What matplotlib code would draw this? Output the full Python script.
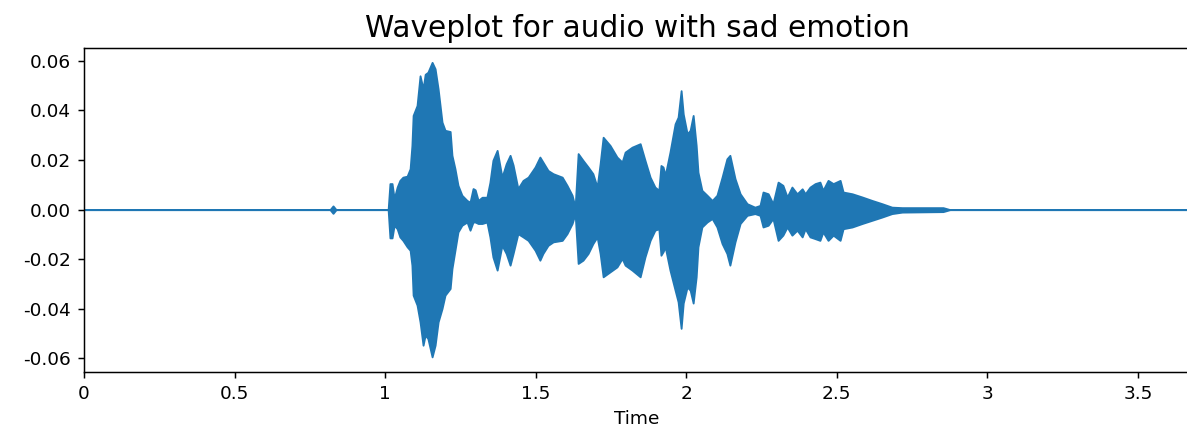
import numpy as np
import matplotlib
matplotlib.use("Agg")
import matplotlib.pyplot as plt
import matplotlib.ticker as mticker

# Envelope of the waveform (seconds, max amplitude, min amplitude)
times = [0.000, 0.817, 0.827, 0.837, 1.010, 1.016, 1.023, 1.030, 1.040, 1.049,
         1.059, 1.073, 1.083, 1.089, 1.093, 1.106, 1.116, 1.126, 1.133, 1.142,
         1.156, 1.166, 1.176, 1.189, 1.199, 1.216, 1.222, 1.232, 1.242, 1.255,
         1.272, 1.282, 1.292, 1.299, 1.309, 1.322, 1.338, 1.348, 1.358, 1.372,
         1.388, 1.402, 1.415, 1.425, 1.441, 1.458, 1.475, 1.498, 1.514, 1.524,
         1.541, 1.558, 1.588, 1.604, 1.621, 1.631, 1.641, 1.657, 1.674, 1.690,
         1.704, 1.714, 1.724, 1.747, 1.770, 1.787, 1.797, 1.820, 1.847, 1.863,
         1.880, 1.896, 1.909, 1.916, 1.923, 1.930, 1.946, 1.963, 1.973, 1.983,
         1.990, 2.003, 2.013, 2.023, 2.033, 2.039, 2.052, 2.069, 2.086, 2.102,
         2.119, 2.135, 2.145, 2.162, 2.179, 2.202, 2.228, 2.245, 2.255, 2.272,
         2.288, 2.305, 2.321, 2.335, 2.351, 2.368, 2.385, 2.395, 2.411, 2.428,
         2.444, 2.454, 2.471, 2.488, 2.511, 2.521, 2.551, 2.584, 2.617, 2.650,
         2.683, 2.717, 2.853, 2.876, 3.673]
upper = [0.0, 0.0, 0.0015, 0.0, 0.0, 0.0105, 0.0105, 0.0045, 0.0091, 0.0118,
         0.0131, 0.0135, 0.0165, 0.0259, 0.038, 0.042, 0.054, 0.0487, 0.0546, 0.0554,
         0.0594, 0.0568, 0.0487, 0.0353, 0.032, 0.0315, 0.0219, 0.0165, 0.0098, 0.0058,
         0.0037, 0.003, 0.0085, 0.008, 0.0037, 0.005, 0.005, 0.011, 0.0199, 0.0239,
         0.0131, 0.0185, 0.0219, 0.018, 0.0085, 0.0118, 0.0131, 0.0172, 0.0212, 0.0192,
         0.0158, 0.0145, 0.0131, 0.0098, 0.0058, 0.001, 0.0226, 0.0199, 0.0172, 0.0145,
         0.0091, 0.0185, 0.0292, 0.0259, 0.0212, 0.0192, 0.0232, 0.0252, 0.0266, 0.0199,
         0.0131, 0.0091, 0.0078, 0.0178, 0.0172, 0.0138, 0.0232, 0.0346, 0.0373, 0.048,
         0.0386, 0.0306, 0.032, 0.038, 0.0259, 0.0151, 0.0078, 0.0058, 0.0037, 0.0058,
         0.0131, 0.0205, 0.0219, 0.0125, 0.0064, 0.0024, 0.001, 0.0017, 0.0071, 0.0064,
         0.0024, 0.0111, 0.0098, 0.0051, 0.0091, 0.0064, 0.0084, 0.0064, 0.0091, 0.0105,
         0.0111, 0.0078, 0.0118, 0.0105, 0.0118, 0.0071, 0.0064, 0.0051, 0.0037, 0.0024,
         0.001, 0.0008, 0.0008, 0.0, 0.0]
lower = [0.0, 0.0, -0.0015, 0.0, 0.0, -0.0114, -0.0114, -0.0063, -0.0077, -0.011,
         -0.0124, -0.015, -0.0164, -0.0224, -0.0345, -0.0385, -0.0453, -0.0547, -0.0506, -0.052,
         -0.0594, -0.0547, -0.0453, -0.0399, -0.0345, -0.0318, -0.0238, -0.0164, -0.009, -0.0063,
         -0.005, -0.0083, -0.005, -0.005, -0.0056, -0.0056, -0.005, -0.011, -0.0191, -0.0244,
         -0.0144, -0.0177, -0.0224, -0.0177, -0.0097, -0.011, -0.0124, -0.0164, -0.0204, -0.0177,
         -0.0144, -0.013, -0.0124, -0.0097, -0.0056, -0.0016, -0.0217, -0.0204, -0.0177, -0.0137,
         -0.011, -0.0177, -0.0271, -0.0251, -0.0231, -0.0197, -0.0224, -0.0244, -0.0271, -0.0191,
         -0.0124, -0.0083, -0.0077, -0.0184, -0.017, -0.015, -0.0244, -0.0325, -0.0372, -0.0479,
         -0.0377, -0.0312, -0.0325, -0.0377, -0.0271, -0.015, -0.007, -0.005, -0.0036, -0.007,
         -0.0137, -0.0177, -0.0224, -0.013, -0.0056, -0.0023, -0.0016, -0.0023, -0.007, -0.0063,
         -0.0036, -0.0124, -0.0103, -0.007, -0.0103, -0.0083, -0.011, -0.0077, -0.011, -0.0117,
         -0.0124, -0.009, -0.0124, -0.0103, -0.0124, -0.0077, -0.007, -0.0056, -0.0043, -0.003,
         -0.0016, -0.001, -0.0008, 0.0, 0.0]

x_ticks = [0, 0.5, 1, 1.5, 2, 2.5, 3, 3.5]
x_tick_labels = ["0", "0.5", "1", "1.5", "2", "2.5", "3", "3.5"]
y_ticks = [-0.06, -0.04, -0.02, 0.0, 0.02, 0.04, 0.06]

DPI = 400 / 3
W, H = 1187, 437
fig = plt.figure(figsize=(W / DPI, H / DPI), dpi=DPI)
ax = fig.add_axes([84 / W, 1 - 372 / H, (1190 - 84) / W, (372 - 48) / H])

ax.fill_between(times, lower, upper, color="C0")
ax.set_xlim(0, 3.673)
ax.set_ylim(-0.0655, 0.0652)
ax.set_xticks(x_ticks)
ax.set_xticklabels(x_tick_labels)
ax.set_yticks(y_ticks)
ax.yaxis.set_major_formatter(mticker.FormatStrFormatter("%.2f"))
ax.set_xlabel("Time")
ax.set_title("Waveplot for audio with sad emotion", fontsize=16)

fig.savefig("out.png", dpi=DPI)
